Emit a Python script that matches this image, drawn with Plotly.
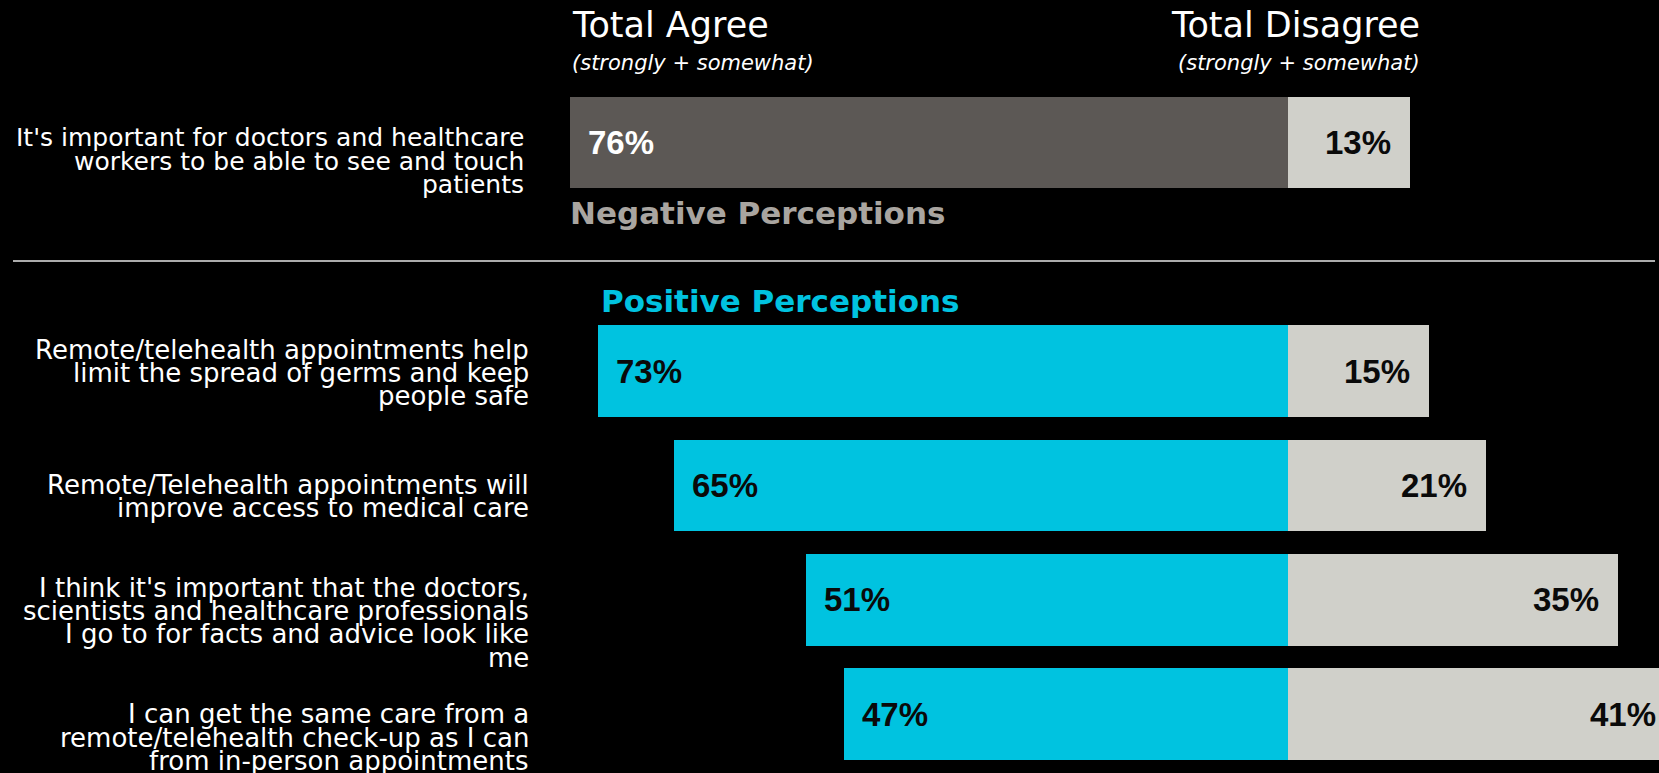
import plotly.graph_objects as go

# Survey statements (line breaks as printed) and their agree / disagree shares
statements = [
    "It's important for doctors and healthcare<br>workers to be able to see and touch<br>patients",
    "Remote/telehealth appointments help<br>limit the spread of germs and keep<br>people safe",
    "Remote/Telehealth appointments will<br>improve access to medical care",
    "I think it's important that the doctors,<br>scientists and healthcare professionals<br>I go to for facts and advice look like<br>me",
    "I can get the same care from a<br>remote/telehealth check-up as I can<br>from in-person appointments",
]
total_agree = [76, 73, 65, 51, 47]
total_disagree = [13, 15, 21, 35, 41]
perception = ["Negative", "Positive", "Positive", "Positive", "Positive"]

header_agree = "Total Agree"
header_disagree = "Total Disagree"
header_note = "(strongly + somewhat)"
section_titles = {"Negative": "Negative Perceptions", "Positive": "Positive Perceptions"}

# Styling
W, H = 1659, 773
BG = "#000000"
AGREE_COLORS = {"Negative": "#5c5855", "Positive": "#00c3e0"}
DISAGREE_COLOR = "#d0d0ca"
SECTION_COLORS = {"Negative": "#a9a5a0", "Positive": "#00c3e0"}
TEXT_FONT = "DejaVu Sans"
VALUE_FONT = "Liberation Sans"

# Row slots: the negative statement sits on its own, one empty slot, then the positives
rows = []
slot = 0
for i, p in enumerate(perception):
    if i > 0 and p != perception[i - 1]:
        slot += 1
    rows.append(slot)
    slot += 1

# Axis scales (pixel geometry of the plotting area)
ZERO_PX = 1287.6      # where the agree / disagree split sits
PX_PER_PCT = 9.44
ROW_PX = 114.3
FIRST_ROW_PX = 142.6
x_range = [-ZERO_PX / PX_PER_PCT, (W - ZERO_PX) / PX_PER_PCT]
y_top = -FIRST_ROW_PX / ROW_PX
y_range = [y_top + H / ROW_PX, y_top]


def x_to_paper(v):
    """Position of an x-axis value as a fraction of the figure width."""
    return (v - x_range[0]) / (x_range[1] - x_range[0])


fig = go.Figure()
fig.add_trace(go.Bar(
    y=rows, x=[-v for v in total_agree], orientation="h", width=0.8,
    marker=dict(color=[AGREE_COLORS[p] for p in perception], line=dict(width=0)),
    hoverinfo="skip", showlegend=False,
))
fig.add_trace(go.Bar(
    y=rows, x=total_disagree, orientation="h", width=0.8,
    marker=dict(color=DISAGREE_COLOR, line=dict(width=0)),
    hoverinfo="skip", showlegend=False,
))

annotations = []

# Value labels at the outer end of each bar (paper x so a bar running past
# the right edge still gets its label)
for r, a, d, p in zip(rows, total_agree, total_disagree, perception):
    annotations.append(dict(
        x=x_to_paper(-a), y=r, xref="paper", yref="y", text=f"<b>{a}%</b>",
        showarrow=False, xanchor="left", yanchor="middle", xshift=16,
        font=dict(family=VALUE_FONT, size=33,
                  color="#ffffff" if p == "Negative" else "#0a0a0a"),
    ))
    annotations.append(dict(
        x=x_to_paper(d), y=r, xref="paper", yref="y", text=f"<b>{d}%</b>",
        showarrow=False, xanchor="right", yanchor="middle", xshift=-17,
        font=dict(family=VALUE_FONT, size=33, color="#0a0a0a"),
    ))

# Statement text, right aligned, one annotation per printed line
label_right = {"Negative": 526, "Positive": 531}
label_size = {"Negative": 25, "Positive": 26}
label_offset = [18.5, 1.5, 11, 23, 23.5]   # block centre below the bar centre, px
LINE_PX = 23.2
for r, text, p, off in zip(rows, statements, perception, label_offset):
    lines = text.split("<br>")
    n = len(lines)
    for k, line in enumerate(lines):
        dy = off + (k - (n - 1) / 2) * LINE_PX
        annotations.append(dict(
            x=label_right[p] / W, y=r, xref="paper", yref="y", text=line,
            showarrow=False, xanchor="right", yanchor="middle", yshift=-dy,
            font=dict(family=TEXT_FONT, size=label_size[p], color="#ffffff"),
        ))


def px_y(py):
    return 1 - py / H


# Column headers and section titles
annotations += [
    dict(x=570 / W, y=px_y(25), xref="paper", yref="paper", text=header_agree,
         showarrow=False, xanchor="left", yanchor="middle",
         font=dict(family=TEXT_FONT, size=35, color="#ffffff")),
    dict(x=570 / W, y=px_y(63.5), xref="paper", yref="paper", text=f"<i>{header_note}</i>",
         showarrow=False, xanchor="left", yanchor="middle",
         font=dict(family=TEXT_FONT, size=21, color="#ffffff")),
    dict(x=1422 / W, y=px_y(25), xref="paper", yref="paper", text=header_disagree,
         showarrow=False, xanchor="right", yanchor="middle",
         font=dict(family=TEXT_FONT, size=35, color="#ffffff")),
    dict(x=1422 / W, y=px_y(63.5), xref="paper", yref="paper", text=f"<i>{header_note}</i>",
         showarrow=False, xanchor="right", yanchor="middle",
         font=dict(family=TEXT_FONT, size=21, color="#ffffff")),
    dict(x=568 / W, y=px_y(213), xref="paper", yref="paper",
         text=f"<b>{section_titles['Negative']}</b>", showarrow=False,
         xanchor="left", yanchor="middle",
         font=dict(family=TEXT_FONT, size=31, color=SECTION_COLORS["Negative"])),
    dict(x=599 / W, y=px_y(301), xref="paper", yref="paper",
         text=f"<b>{section_titles['Positive']}</b>", showarrow=False,
         xanchor="left", yanchor="middle",
         font=dict(family=TEXT_FONT, size=31, color=SECTION_COLORS["Positive"])),
]

fig.update_layout(
    width=W, height=H, autosize=False,
    margin=dict(l=0, r=0, t=0, b=0, pad=0),
    paper_bgcolor=BG, plot_bgcolor=BG,
    barmode="overlay", bargap=0,
    xaxis=dict(range=x_range, visible=False, fixedrange=True),
    yaxis=dict(range=y_range, visible=False, fixedrange=True),
    annotations=annotations,
    shapes=[dict(type="line", xref="paper", yref="paper",
                 x0=13 / W, x1=1655 / W, y0=px_y(261), y1=px_y(261),
                 line=dict(color="#e6e6e6", width=1.5))],
)

fig.write_html("out.html")
